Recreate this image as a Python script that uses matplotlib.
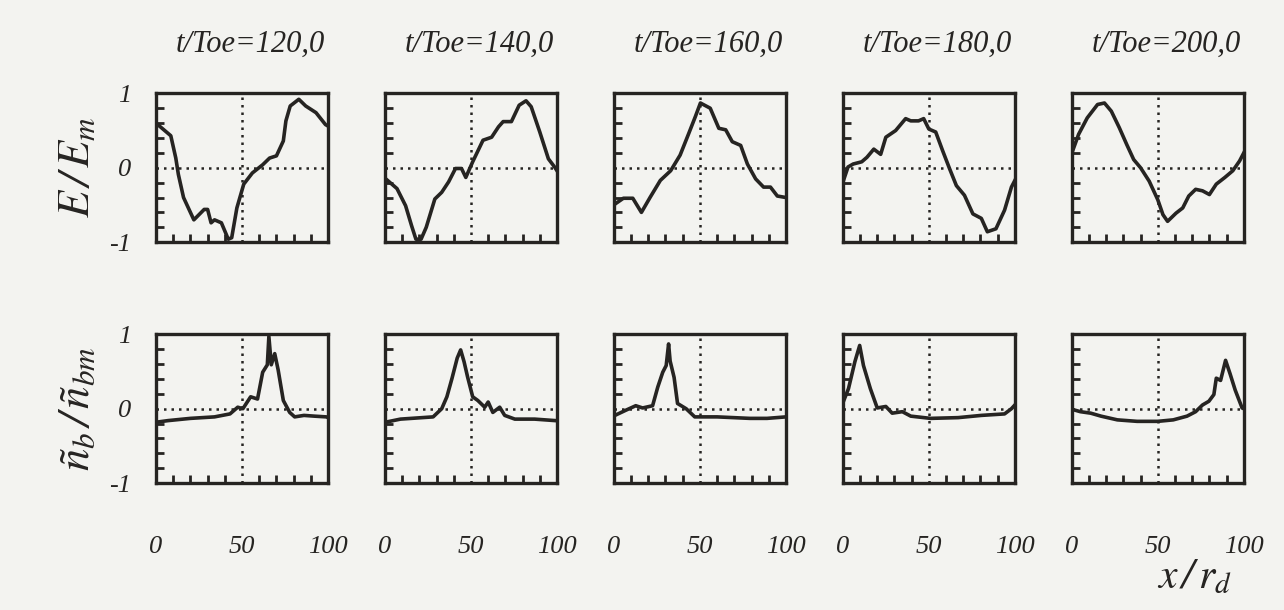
import matplotlib.pyplot as plt
from matplotlib.ticker import MultipleLocator

plt.rcParams['font.family'] = 'Liberation Serif'
plt.rcParams['font.style'] = 'italic'
plt.rcParams['mathtext.fontset'] = 'stix'

times = ['120,0', '140,0', '160,0', '180,0', '200,0']
ytick_labels = ['-1', '0', '1']
xtick_labels = ['0', '50', '100']

# E / E_m, read from the top row
E120_x = [1, 8.6, 11.5, 13, 16, 22, 28, 30, 32, 34, 38, 42, 44, 47, 51, 56, 62, 66, 70, 74, 75.5, 78, 83, 87, 93, 98.5, 100]
E120_y = [0.58, 0.43, 0.13, -0.09, -0.40, -0.70, -0.56, -0.56, -0.74, -0.70, -0.74, -0.96, -0.94, -0.54, -0.22, -0.07, 0.04, 0.13, 0.16, 0.36, 0.63, 0.83, 0.92, 0.83, 0.74, 0.58, 0.56]

E140_x = [0.5, 7, 12, 15.5, 18, 21, 24, 29, 33, 37, 41, 44.5, 47, 51, 57, 62, 66, 68.7, 73.5, 78, 82, 85, 90, 95, 98.6, 100]
E140_y = [-0.15, -0.28, -0.51, -0.78, -0.96, -0.96, -0.80, -0.42, -0.33, -0.19, -0.01, -0.01, -0.13, 0.08, 0.37, 0.41, 0.55, 0.62, 0.62, 0.84, 0.90, 0.82, 0.48, 0.12, 0.01, -0.04]

E160_x = [0.5, 5.5, 11, 16, 21, 27, 33, 38.5, 43.5, 47.4, 50.3, 56, 61, 65, 68.8, 73.7, 77.6, 82.4, 87, 91, 95, 100]
E160_y = [-0.49, -0.41, -0.41, -0.60, -0.40, -0.17, -0.04, 0.17, 0.46, 0.69, 0.87, 0.80, 0.53, 0.51, 0.35, 0.30, 0.05, -0.15, -0.26, -0.26, -0.38, -0.40]

E180_x = [0.4, 3, 6, 11, 14, 18, 22, 25, 30.7, 36.5, 39.5, 44, 47, 50, 54, 58, 62, 66, 70.7, 75.6, 80.5, 84, 89, 94, 98, 100]
E180_y = [-0.17, 0.01, 0.05, 0.08, 0.14, 0.25, 0.18, 0.41, 0.50, 0.66, 0.63, 0.63, 0.66, 0.52, 0.48, 0.23, -0.01, -0.24, -0.37, -0.62, -0.68, -0.86, -0.82, -0.57, -0.26, -0.17]

E200_x = [0.4, 4, 9, 15, 19, 23, 27.6, 32, 36, 40, 45, 50, 53, 55.7, 60.6, 64.5, 68, 72, 76, 80, 84, 89, 93.6, 97.5, 100]
E200_y = [0.22, 0.45, 0.67, 0.85, 0.87, 0.76, 0.54, 0.31, 0.11, 0.0, -0.18, -0.43, -0.63, -0.72, -0.61, -0.54, -0.38, -0.29, -0.31, -0.36, -0.22, -0.13, -0.04, 0.09, 0.20]

# n_b / n_bm, read from the bottom row
N120_x = [0.6, 7, 20, 34, 43, 47.5, 50.5, 55, 59, 62, 64.7, 65.6, 67, 69, 71, 74, 77.7, 80.6, 86, 92, 99, 100]
N120_y = [-0.18, -0.16, -0.13, -0.11, -0.07, 0.02, 0.0, 0.16, 0.13, 0.49, 0.59, 0.97, 0.59, 0.74, 0.52, 0.11, -0.05, -0.11, -0.09, -0.10, -0.11, -0.12]

N140_x = [0.6, 9, 28, 33, 36, 39, 42, 44, 46, 48, 51, 54, 58, 60, 62.7, 66.7, 69.6, 75.5, 87, 99]
N140_y = [-0.18, -0.14, -0.11, 0.0, 0.16, 0.41, 0.68, 0.79, 0.63, 0.43, 0.16, 0.11, 0.02, 0.09, -0.05, 0.02, -0.09, -0.14, -0.14, -0.16]

N160_x = [0.6, 7, 12.7, 16.7, 22.5, 25.5, 28.4, 30.4, 31.8, 32.7, 35, 37, 42, 47, 60, 79, 89, 100]
N160_y = [-0.09, -0.02, 0.04, 0.01, 0.04, 0.29, 0.49, 0.58, 0.87, 0.64, 0.42, 0.07, 0.0, -0.11, -0.11, -0.13, -0.13, -0.11]

N180_x = [0.4, 3.3, 7, 9.8, 12, 16, 20, 25, 28.7, 34.6, 39.5, 51, 67, 80.5, 94, 98, 100]
N180_y = [0.10, 0.27, 0.63, 0.85, 0.58, 0.27, 0.01, 0.03, -0.06, -0.04, -0.10, -0.13, -0.12, -0.09, -0.07, 0.0, 0.05]

N200_x = [0.4, 5, 11, 17, 26.5, 38, 50, 59, 67, 72, 76, 79.7, 82.6, 84, 86.5, 89.4, 92, 95, 99, 100]
N200_y = [-0.01, -0.04, -0.06, -0.10, -0.15, -0.17, -0.17, -0.15, -0.10, -0.04, 0.05, 0.10, 0.19, 0.41, 0.38, 0.65, 0.47, 0.25, 0.01, 0.0]

top_x = [E120_x, E140_x, E160_x, E180_x, E200_x]
top_y = [E120_y, E140_y, E160_y, E180_y, E200_y]
bot_x = [N120_x, N140_x, N160_x, N180_x, N200_x]
bot_y = [N120_y, N140_y, N160_y, N180_y, N200_y]

ink = '#262422'
paper = '#f3f3f0'

fig = plt.figure(figsize=(12.84, 6.10), dpi=100, facecolor=paper)

left0, step, w, h = 0.1215, 0.1783, 0.134, 0.244
rows_bottom = [0.603, 0.208]

for r, (xs, ys) in enumerate([(top_x, top_y), (bot_x, bot_y)]):
    for c in range(5):
        ax = fig.add_axes([left0 + c * step, rows_bottom[r], w, h], facecolor=paper)
        ax.plot(xs[c], ys[c], color=ink, lw=2.6, solid_joinstyle='round')
        ax.axhline(0, color=ink, lw=1.8, ls=(0, (1, 2)))
        ax.axvline(50, color=ink, lw=1.8, ls=(0, (1, 2)))
        ax.set_xlim(0, 100)
        ax.set_ylim(-1, 1)
        for s in ax.spines.values():
            s.set_linewidth(2.4)
            s.set_color(ink)
        ax.xaxis.set_minor_locator(MultipleLocator(10))
        ax.yaxis.set_minor_locator(MultipleLocator(0.2))
        ax.set_xticks([0, 50, 100])
        ax.set_yticks([-1, 0, 1])
        ax.tick_params(which='both', direction='in', color=ink, width=2, length=6,
                       top=False, right=False, labelsize=19, labelcolor=ink)
        ax.tick_params(which='major', length=0)
        if c == 0:
            ax.set_yticklabels(ytick_labels)
            ax.tick_params(axis='y', pad=18)
        else:
            ax.set_yticklabels([])
        if r == 1:
            ax.set_xticklabels(xtick_labels)
            ax.tick_params(axis='x', pad=38)
        else:
            ax.set_xticklabels([])
            ax.set_title('t/Toe=' + times[c], fontsize=22, color=ink, pad=30, x=0.55)
        if c == 0 and r == 0:
            ax.set_ylabel(r'$E\,/\,E_m$', fontsize=32, color=ink, labelpad=8)
        if c == 0 and r == 1:
            ax.set_ylabel(r'$ñ_b\,/\,ñ_{bm}$', fontsize=32, color=ink, labelpad=8)

fig.text(0.93, 0.035, r'$x\,/\,r_d$', fontsize=30, color=ink, ha='center')

fig.savefig('out.png', dpi=100, facecolor=paper)
